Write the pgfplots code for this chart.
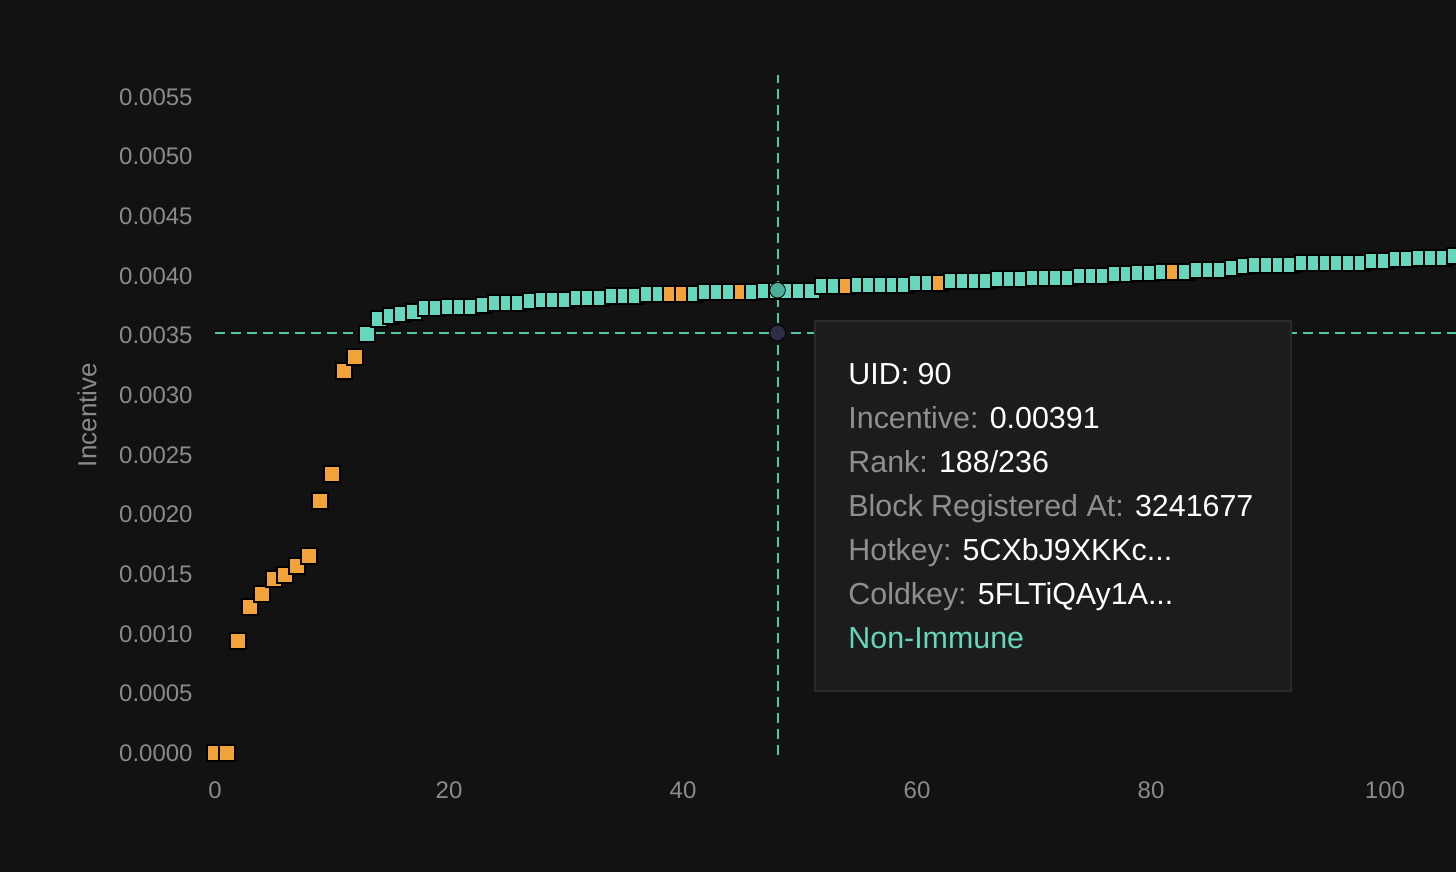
\documentclass[border=0pt]{standalone}
\usepackage{pgfplots}
\pgfplotsset{compat=1.18}
\usepackage{fontspec}
\setmainfont{Liberation Sans}

\definecolor{bg}{HTML}{121212}
\definecolor{ticktext}{HTML}{8A8A8A}
\definecolor{mint}{HTML}{66D6BC}
\definecolor{amber}{HTML}{F2A23A}
\definecolor{cross}{HTML}{4FC7A8}
\definecolor{tipbg}{HTML}{1C1C1C}
\definecolor{tipedge}{HTML}{2A2A2A}
\definecolor{hoverdot}{HTML}{4FAE97}
\definecolor{crossdot}{HTML}{2C2E45}
\definecolor{tiplabel}{HTML}{8F8F8F}

% incentive per neuron, sorted; c: o = immune (orange), t = non-immune
\pgfplotstableread{
x y c
0 0 o
1 0 o
2 0.00094 o
3 0.001225 o
4 0.001334 o
5 0.00146 o
6 0.00149 o
7 0.00157 o
8 0.00165 o
9 0.00211 o
10 0.00234 o
11 0.00320 o
12 0.00332 o
13 0.00351 t
14 0.003641 t
15 0.003666 t
16 0.003683 t
17 0.0037 t
18 0.003729 t
19 0.003729 t
20 0.003741 t
21 0.003741 t
22 0.003741 t
23 0.003758 t
24 0.003775 t
25 0.003775 t
26 0.003775 t
27 0.003788 t
28 0.0038 t
29 0.0038 t
30 0.0038 t
31 0.003817 t
32 0.003817 t
33 0.003817 t
34 0.00383 t
35 0.003834 t
36 0.003834 t
37 0.00385 t
38 0.00385 t
39 0.00385 o
40 0.00385 o
41 0.00385 t
42 0.003867 t
43 0.003867 t
44 0.003867 t
45 0.003867 o
46 0.003867 t
47 0.003876 t
48 0.003876 t
49 0.003876 t
50 0.003876 t
51 0.003876 t
52 0.003914 t
53 0.003914 t
54 0.003914 o
55 0.003926 t
56 0.003926 t
57 0.003926 t
58 0.003926 t
59 0.003926 t
60 0.00394 t
61 0.00394 t
62 0.00394 o
63 0.003954 t
64 0.003954 t
65 0.003954 t
66 0.003954 t
67 0.00397 t
68 0.00397 t
69 0.00397 t
70 0.003985 t
71 0.003985 t
72 0.003985 t
73 0.003985 t
74 0.003999 t
75 0.003999 t
76 0.003999 t
77 0.004014 t
78 0.004014 t
79 0.004027 t
80 0.004027 t
81 0.004031 t
82 0.004035 o
83 0.004035 t
84 0.004046 t
85 0.004046 t
86 0.004046 t
87 0.004063 t
88 0.00408 t
89 0.004094 t
90 0.004094 t
91 0.004094 t
92 0.004094 t
93 0.004108 t
94 0.004108 t
95 0.004108 t
96 0.004108 t
97 0.004108 t
98 0.004108 t
99 0.004125 t
100 0.004125 t
101 0.004138 t
102 0.004138 t
103 0.004152 t
104 0.004152 t
105 0.004152 t
106 0.004166 t
}\incentive

\begin{document}
\begin{tikzpicture}
\fill[bg] (0,0) rectangle (728pt,436pt);
\begin{axis}[
    at={(102.25pt,47.55pt)}, anchor=south west,
    scale only axis, width=625.75pt, height=351.9pt,
    xmin=-0.9, xmax=106.07,
    ymin=-0.0002, ymax=0.0057,
    axis line style={draw=none},
    major tick length=0pt,
    xtick={0,20,40,60,80,100},
    ytick={0,0.0005,0.001,0.0015,0.002,0.0025,0.003,0.0035,0.004,0.0045,0.005,0.0055},
    scaled y ticks=false,
    /pgf/number format/assume math mode=true,
    tick label style={font=\fontsize{12}{14}\selectfont, text=ticktext, inner sep=0pt},
    yticklabel style={/pgf/number format/fixed, /pgf/number format/fixed zerofill,
        /pgf/number format/precision=4, anchor=east, xshift=-5.75pt},
    xticklabel style={anchor=center, yshift=-6.55pt},
]
% crosshair
\addplot[cross, line width=1pt, dash pattern=on 5pt off 3pt] coordinates {(0,0.003521) (106.07,0.003521)};
\addplot[cross, line width=1pt, dash pattern=on 5pt off 3pt] coordinates {(48.08,-0.0000168) (48.08,0.005684)};

\addplot[scatter, only marks, scatter src=explicit symbolic, mark=square*, mark size=4pt,
    scatter/classes={
        o={mark=square*, draw=black, fill=amber, line width=1pt},
        t={mark=square*, draw=black, fill=mint, line width=1pt}}]
    table[x=x, y=y, meta=c] {\incentive};

\addplot[only marks, mark=*, mark size=3.9pt, mark options={draw=none, fill=hoverdot}] coordinates {(48.08,0.00388)};
\addplot[only marks, mark=*, mark size=4pt, mark options={draw=none, fill=crossdot}] coordinates {(48.08,0.003521)};
\end{axis}

\begin{scope}[shift={(0,436pt)}, x=0.5pt, y=-0.5pt]
\node[rotate=90, text=ticktext, font=\fontsize{13}{15}\selectfont, inner sep=0pt] at (87,415) {Incentive};
\draw[tipedge, fill=tipbg, line width=1pt] (815,321) rectangle (1291,691);
\begin{scope}[every node/.style={anchor=base west, inner sep=0pt, font=\fontsize{15.2}{18}\selectfont, text=white}]
\node at (848,385) {UID: 90};
\node at (848,429) {{\color{tiplabel}Incentive:} 0.00391};
\node at (848,473) {{\color{tiplabel}Rank:} 188/236};
\node at (848,517) {{\color{tiplabel}Block Registered At:} 3241677};
\node at (848,561) {{\color{tiplabel}Hotkey:} 5CXbJ9XKKc...};
\node at (848,605) {{\color{tiplabel}Coldkey:} 5FLTiQAy1A...};
\node[text=mint] at (848,649) {Non-Immune};
\end{scope}
\end{scope}
\pgfresetboundingbox
\path (0,0) rectangle (728pt,436pt);
\end{tikzpicture}
\end{document}
